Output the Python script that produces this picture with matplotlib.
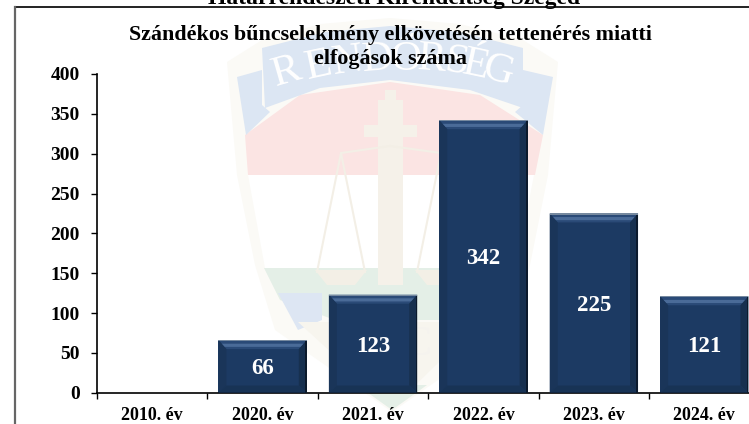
import matplotlib
matplotlib.use("Agg")
import matplotlib.pyplot as plt
from matplotlib.patches import Polygon, Rectangle

years = ["2010. év", "2020. év", "2021. év", "2022. év", "2023. év", "2024. év"]
counts = [0, 66, 123, 342, 225, 121]
yticks = [0, 50, 100, 150, 200, 250, 300, 350, 400]
header = "Határrendészeti Kirendeltség Szeged"
title = "Szándékos bűncselekmény elkövetésén tettenérés miatti\nelfogások száma"
badge_word = "RENDŐRSÉG"

plt.rcParams["font.family"] = ["Liberation Serif", "DejaVu Serif"]
plt.rcParams["font.weight"] = "bold"

W, H = 749, 424
fig = plt.figure(figsize=(W / 100, H / 100), dpi=100, facecolor="white")

# faint police badge behind the chart, in pixel coordinates
bg = fig.add_axes([0, 0, 1, 1], zorder=0)
bg.set_xlim(0, W)
bg.set_ylim(H, 0)
bg.axis("off")

def shape(pts, color, z=1):
    bg.add_patch(Polygon(pts, closed=True, facecolor=color, edgecolor="none", zorder=z))

# outer cream shield
shape([(227, 62), (262, 40), (320, 24), (390, 18), (460, 24), (523, 40), (558, 62),
       (548, 175), (530, 265), (510, 330), (392, 412), (275, 330), (255, 265), (237, 175)], "#fbfaf6", 1)
# white middle of the shield
shape([(248, 175), (534, 175), (516, 268), (265, 268)], "#ffffff", 2)
# red band
shape([(245, 135), (300, 95), (390, 82), (480, 95), (543, 135), (535, 175), (248, 175)], "#fbe4e3", 2)
# blue banner and its tails
shape([(262, 48), (325, 32), (390, 26), (460, 32), (523, 48), (523, 108), (470, 90), (390, 80), (320, 88), (265, 108)], "#dce6f3", 3)
shape([(237, 77), (262, 70), (262, 105), (270, 112), (246, 135)], "#dce6f3", 3)
shape([(553, 77), (523, 70), (523, 105), (515, 112), (543, 135)], "#dce6f3", 3)
# green band and lower part
shape([(264, 268), (516, 268), (506, 300), (450, 320), (335, 320), (280, 300)], "#e4efe7", 2)
shape([(278, 293), (322, 293), (322, 320), (298, 330)], "#dde6f3", 3)
shape([(458, 293), (502, 293), (480, 330), (458, 320)], "#dde6f3", 3)
shape([(298, 322), (480, 322), (392, 408)], "#f7f5ee", 3)
shape([(357, 385), (427, 385), (392, 410)], "#e4efe7", 4)
# cross
bg.add_patch(Rectangle((378, 100), 25, 185, facecolor="#f5f1e9", edgecolor="none", zorder=4))
bg.add_patch(Rectangle((364, 125), 53, 12, facecolor="#f5f1e9", edgecolor="none", zorder=4))
bg.add_patch(Rectangle((385, 90), 11, 12, facecolor="#f5f1e9", edgecolor="none", zorder=4))
# scales
for cx in (341, 441):
    bg.plot([cx - 24, cx, cx + 24], [272, 153, 272], color="#f3efe6", lw=1.5, zorder=4)
    shape([(cx - 26, 270), (cx + 26, 270), (cx + 14, 285), (cx - 14, 285)], "#f3efe6", 4)
bg.plot([341, 390, 441], [153, 146, 153], color="#f3efe6", lw=1.5, zorder=4)
# badge lettering along the banner arc
letter_x = [287, 318, 348, 378, 406, 432, 456, 476, 498]
letter_y = [72, 66, 62, 60, 60, 60, 63, 66, 71]
letter_rot = [16, 12, 8, 4, 0, -4, -8, -12, -16]
for ch, lx, ly, rot in zip(badge_word, letter_x, letter_y, letter_rot):
    bg.text(lx, ly, ch, ha="center", va="center", fontsize=31, color="#ffffff", fontweight="normal",
            rotation=rot, zorder=5)
bg.text(392, 345, "R  C", ha="center", va="center", fontsize=31, color="#f5f3ee", fontweight="normal", zorder=5)

# outer frame, black on top, grey on the left
bg.plot([15, W], [7, 7], color="#111111", lw=1.3, zorder=6)
bg.plot([15, 15], [7, H], color="#666666", lw=1.6, zorder=6)

ax = fig.add_axes([97 / W, (H - 392.7) / H, 662.5 / W, 318.7 / H], zorder=2)
ax.patch.set_alpha(0)
x = list(range(len(years)))
w = 0.8
ax.bar(x, counts, width=w, color="#1c3a63", edgecolor="none", zorder=2)

dx = 8 / 110.4   # bevel width in category units
dy = 9 / 0.797   # bevel height in value units
for i, v in zip(x, counts):
    if v == 0:
        continue
    l, r = i - w / 2, i + w / 2
    ax.add_patch(Polygon([(l, v), (r, v), (r - dx, v - dy), (l + dx, v - dy)], fc="#2a4a77", ec="none", zorder=3))
    ax.add_patch(Polygon([(l + dx * 0.4, v - dy * 0.4), (r - dx * 0.4, v - dy * 0.4), (r - dx * 0.75, v - dy * 0.75), (l + dx * 0.75, v - dy * 0.75)],
                         fc="#4a6b98", ec="none", zorder=3))
    ax.add_patch(Polygon([(l, 0), (l, v), (l + dx, v - dy), (l + dx, dy * 0.8)], fc="#1a3559", ec="none", zorder=3))
    ax.add_patch(Polygon([(r, 0), (r, v), (r - dx, v - dy), (r - dx, dy * 0.8)], fc="#17304f", ec="none", zorder=3))
    ax.add_patch(Polygon([(l, 0), (r, 0), (r - dx, dy * 0.8), (l + dx, dy * 0.8)], fc="#183355", ec="none", zorder=3))
    ax.add_patch(Rectangle((r - 0.014, 0), 0.014, v, fc="#0c1a2c", ec="none", zorder=4))
    ax.add_patch(Rectangle((l, v - 1.5), w, 1.5, fc="#76899f", ec="none", zorder=4))
    ax.text(i, v / 2 - 3, str(v), ha="center", va="center", color="white", fontsize=16.5, fontweight="bold", zorder=5)

ax.set_xlim(-0.5, 5.5)
ax.set_ylim(0, 400)
ax.set_yticks(yticks)
ax.set_xticks([i - 0.5 for i in x])
ax.set_xticklabels([])
ax.tick_params(axis="y", length=4.5, width=1, pad=8, labelsize=14)
ax.tick_params(axis="x", length=4, width=1)
for i, lab in zip(x, years):
    fig.text((97 + 110.4 * (i + 0.5)) / W, (H - 415) / H, lab, ha="center", va="center", fontsize=13, fontweight="bold", zorder=6)
for s in ("top", "right"):
    ax.spines[s].set_visible(False)
for s in ("left", "bottom"):
    ax.spines[s].set_linewidth(1.2)

fig.text(390 / W, (H - 47) / H, title, ha="center", va="center", fontsize=15.8, fontweight="bold",
         linespacing=1.3, zorder=6)
fig.text(394 / W, (H - 4) / H, header, ha="center", va="baseline", fontsize=17, fontweight="bold", zorder=6)

fig.savefig("out.png", dpi=100)
